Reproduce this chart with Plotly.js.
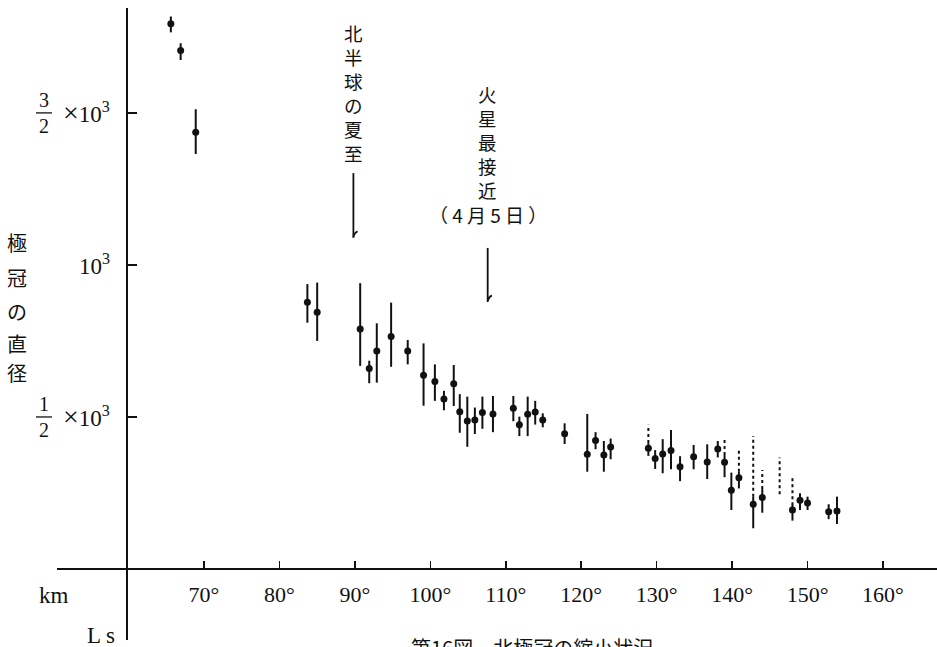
<!DOCTYPE html>
<html>
<head>
<meta charset="utf-8">
<script src="https://cdn.plot.ly/plotly-3.0.1.min.js"></script>
<style>html,body{margin:0;padding:0;background:#fff;}#chart{width:937px;height:647px;}</style>
</head>
<body>
<div id="chart"></div>
<script>
// ---- data ----
const ls = [65.6, 66.9, 68.9, 83.7, 85.0, 90.7, 91.9, 92.9, 94.8, 97.0, 99.1, 100.6, 101.8, 103.1, 103.9, 104.9, 105.9, 106.9, 108.3, 111.0, 111.8, 112.9, 113.9, 114.9, 117.8, 120.8, 121.9, 123.0, 123.9, 128.9, 129.8, 130.8, 131.9, 133.1, 134.9, 136.7, 138.1, 139.0, 139.9, 140.9, 142.8, 144.0, 148.0, 149.0, 150.0, 152.8, 153.9];
const diam = [1793, 1705, 1436, 877, 844, 789, 659, 717, 765, 717, 637, 617, 559, 609, 517, 487, 490, 515, 510, 529, 474, 509, 516, 490, 445, 377, 423, 375, 401, 397, 363, 378, 390, 336, 369, 352, 395, 351, 259, 300, 213, 235, 194, 226, 217, 188, 191];
const diamHigh = [1817, 1729, 1512, 937, 942, 940, 685, 808, 876, 753, 742, 673, 586, 671, 575, 567, 531, 567, 569, 569, 501, 567, 553, 512, 479, 510, 450, 421, 429, 414, 391, 427, 457, 371, 408, 410, 421, 375, 317, 320, 238, 263, 211, 249, 238, 213, 238];
const diamLow = [1765, 1674, 1365, 810, 750, 668, 611, 613, 665, 673, 537, 553, 522, 536, 448, 402, 444, 461, 450, 486, 437, 437, 475, 466, 411, 320, 394, 320, 361, 372, 329, 315, 328, 289, 328, 296, 367, 302, 194, 265, 134, 185, 159, 194, 194, 164, 148];

// dotted (uncertain) upper extensions
const dotLs = [128.9, 139.0, 140.9, 142.8, 144.0, 146.3, 148.0];
const dotLow = [414, 375, 320, 238, 263, 246, 210];
const dotHigh = [474, 427, 391, 437, 326, 367, 306];

// event markers
const eventLs = [89.8, 107.6];
const eventLow = [1089, 878];
const eventHigh = [1302, 1056];
const eventText = ['北半球の夏至', '火星最接近'];
const eventDate = '（ 4 月 5 日 ）';

// axis ticks
const xTickVals = [70, 80, 90, 100, 110, 120, 130, 140, 150, 160];
const xTickText = ['70°', '80°', '90°', '100°', '110°', '120°', '130°', '140°', '150°', '160°'];
const yTickVals = [500, 1000, 1500];
const yTickFrac = [['1', '2'], null, ['3', '2']];
const yTitleChars = ['極', '冠', 'の', '直', '径'];

// ---- helpers (pixel -> paper) ----
const W = 937, H = 647;
const P = x => x / W;
const Q = y => 1 - y / H;
const INK = '#111';
const SERIF = 'Liberation Serif, DejaVu Serif, serif';
const CJK = 'Noto Sans CJK JP, sans-serif';

const traces = [];
// dotted extensions
const dx = [], dy = [];
dotLs.forEach((v, i) => { dx.push(v, v, null); dy.push(dotLow[i], dotHigh[i], null); });
traces.push({x: dx, y: dy, mode: 'lines', line: {color: INK, width: 2, dash: '3px,3px'}, hoverinfo: 'skip'});
// measurements
traces.push({
  x: ls, y: diam, mode: 'markers', type: 'scatter',
  marker: {color: INK, size: 7},
  error_y: {type: 'data', symmetric: false,
    array: diamHigh.map((h, i) => h - diam[i]),
    arrayminus: diamLow.map((l, i) => diam[i] - l),
    color: INK, thickness: 2, width: 0}
});

const shapes = [];
eventLs.forEach((v, i) => {
  shapes.push({type: 'line', xref: 'x', yref: 'y', x0: v, x1: v, y0: eventLow[i], y1: eventHigh[i], line: {color: INK, width: 1.8}});
  shapes.push({type: 'path', xref: 'x', yref: 'y',
    path: `M ${v},${eventLow[i] + 4} Q ${v + 0.1},${eventLow[i] + 16} ${v + 0.55},${eventLow[i] + 22}`,
    line: {color: INK, width: 1.8}});
});
// fraction bars on y tick labels
yTickVals.forEach((v, i) => {
  if (yTickFrac[i]) shapes.push({type: 'line', xref: 'paper', yref: 'y', x0: P(36), x1: P(52), y0: v, y1: v, line: {color: INK, width: 1.3}});
});

const annotations = [];
yTickVals.forEach((v, i) => {
  annotations.push({xref: 'paper', yref: 'y', x: P(112), y: v, xanchor: 'right', yanchor: 'middle', showarrow: false,
    text: (yTickFrac[i] ? '<span style="font-size:28px">×</span>' : '') + '10<sup>3</sup>', font: {family: SERIF, size: 23, color: INK}});
  if (yTickFrac[i]) annotations.push({xref: 'paper', yref: 'y', x: P(44), y: v, xanchor: 'center', yanchor: 'middle', showarrow: false,
    text: yTickFrac[i][0] + '<br>' + yTickFrac[i][1], font: {family: SERIF, size: 20, color: INK}});
});
const titleY = [243, 277, 311, 343, 372];
yTitleChars.forEach((c, i) => annotations.push({xref: 'paper', yref: 'paper', x: P(17), y: Q(titleY[i]), xanchor: 'center', yanchor: 'middle', showarrow: false, text: c, font: {family: CJK, size: 20, color: INK}}));
annotations.push({xref: 'paper', yref: 'paper', x: P(54), y: Q(595), xanchor: 'center', yanchor: 'middle', showarrow: false, text: 'km', font: {family: SERIF, size: 23, color: INK}});
annotations.push({xref: 'paper', yref: 'paper', x: P(101), y: Q(635), xanchor: 'center', yanchor: 'middle', showarrow: false, text: 'L s', font: {family: SERIF, size: 23, color: INK}});
annotations.push({xref: 'paper', yref: 'paper', x: P(532), y: Q(647), xanchor: 'center', yanchor: 'middle', showarrow: false, text: '第16図　北極冠の縮小状況', font: {family: CJK, size: 20, color: INK}});
// event labels
annotations.push({xref: 'x', yref: 'paper', x: eventLs[0], y: Q(93.5), xanchor: 'center', yanchor: 'middle', showarrow: false, align: 'center',
  text: eventText[0].split('').join('<br>'), font: {family: CJK, size: 18.5, color: INK}});
annotations.push({xref: 'x', yref: 'paper', x: eventLs[1], y: Q(142), xanchor: 'center', yanchor: 'middle', showarrow: false, align: 'center',
  text: eventText[1].split('').join('<br>'), font: {family: CJK, size: 18.5, color: INK}});
annotations.push({xref: 'x', yref: 'paper', x: eventLs[1], y: Q(214), xanchor: 'center', yanchor: 'middle', showarrow: false,
  text: eventDate, font: {family: CJK, size: 19, color: INK}});

const layout = {
  width: W, height: H, margin: {l: 0, r: 0, t: 0, b: 0, pad: 0},
  paper_bgcolor: '#fff', plot_bgcolor: 'rgba(0,0,0,0)', showlegend: false,
  xaxis: {domain: [57 / W, 1], range: [50.51, 167.16], anchor: 'free', position: 78 / H,
    showline: true, linecolor: INK, linewidth: 2, ticks: 'inside', ticklen: 7, tickwidth: 1.5, tickcolor: INK,
    tickvals: xTickVals, ticktext: xTickText, tickfont: {family: SERIF, size: 22, color: INK},
    ticklabelstandoff: 6, showgrid: false, zeroline: false},
  yaxis: {domain: [7 / H, 639 / H], range: [-233.5, 1845], anchor: 'free', position: 127 / W,
    showline: true, linecolor: INK, linewidth: 2, ticks: 'inside', ticklen: 9, tickwidth: 1.5, tickcolor: INK,
    tickvals: yTickVals, showticklabels: false, showgrid: false, zeroline: false},
  shapes: shapes, annotations: annotations
};
Plotly.newPlot('chart', traces, layout, {staticPlot: true, displayModeBar: false});
</script>
</body>
</html>
